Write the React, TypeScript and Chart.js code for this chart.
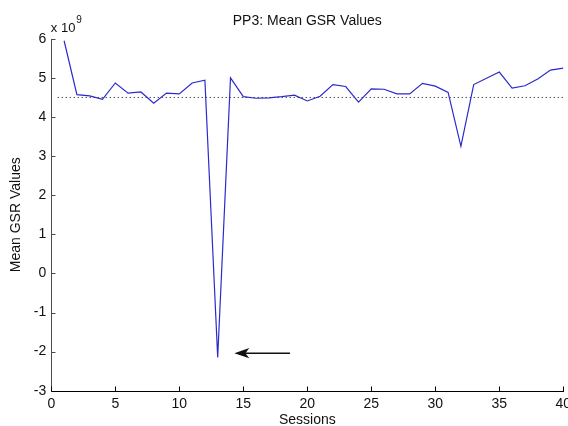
import React, { useEffect, useRef } from "react";
import { Chart, registerables } from "chart.js";

Chart.register(...registerables);

// ---- data (values in units of 10^9) ----
const sessions = [
  1, 2, 3, 4, 5, 6, 7, 8, 9, 10, 11, 12, 13, 14, 15, 16, 17, 18, 19, 20,
  21, 22, 23, 24, 25, 26, 27, 28, 29, 30, 31, 32, 33, 34, 35, 36, 37, 38, 39, 40,
];
const meanGsr = [
  5.95, 4.57, 4.54, 4.45, 4.87, 4.61, 4.64, 4.35, 4.61, 4.59,
  4.87, 4.94, -2.15, 5.0, 4.52, 4.48, 4.49, 4.52, 4.56, 4.41,
  4.53, 4.83, 4.78, 4.38, 4.72, 4.71, 4.59, 4.59, 4.86, 4.79,
  4.63, 3.25, 4.83, 4.99, 5.15, 4.74, 4.8, 4.97, 5.2, 5.25,
];
const referenceLevel = 4.5;
const referenceSpan = [0.5, 40];
const xTickRange = [0, 40];
const xTickStep = 5;
const yTickRange = [-3, 6];
const yTickStep = 1;
const exponentBase = "x 10";
const exponentPower = "9";
const titleText = "PP3: Mean GSR Values";
const xTitle = "Sessions";
const yTitle = "Mean GSR Values";
// annotation arrow in data coordinates
const arrowTail = [18.65, -2.04];
const arrowTip = [14.3, -2.04];

const FONT = "'Liberation Sans', Arial, Helvetica, sans-serif";

const matlabAxes = {
  id: "matlabAxes",
  afterDraw(chart: any) {
    const { ctx, chartArea, scales } = chart;
    const { left, right, top, bottom } = chartArea;
    const xs = scales.x;
    const ys = scales.y;
    const L = Math.round(left) + 0.5;
    const B = Math.round(bottom) + 0.5;
    ctx.save();
    ctx.lineWidth = 1;
    // left axis
    ctx.strokeStyle = "#4a4a4a";
    ctx.beginPath();
    ctx.moveTo(L, Math.round(top));
    ctx.lineTo(L, B);
    ctx.stroke();
    ys.ticks.forEach((t: any) => {
      const py = Math.round(ys.getPixelForValue(t.value)) + 0.5;
      ctx.beginPath();
      ctx.moveTo(L, py);
      ctx.lineTo(L + 4, py);
      ctx.stroke();
    });
    // bottom axis
    ctx.strokeStyle = "#000";
    ctx.beginPath();
    ctx.moveTo(L, B);
    ctx.lineTo(Math.round(right) + 1, B);
    ctx.stroke();
    xs.ticks.forEach((t: any) => {
      const px = Math.round(xs.getPixelForValue(t.value)) + 0.5;
      ctx.beginPath();
      ctx.moveTo(px, B);
      ctx.lineTo(px, B - 5);
      ctx.stroke();
    });
    // exponent label
    ctx.fillStyle = "#111";
    ctx.textAlign = "left";
    ctx.textBaseline = "alphabetic";
    ctx.font = `13px ${FONT}`;
    ctx.fillText(exponentBase, left - 0.5, 32);
    const w = ctx.measureText(exponentBase).width;
    ctx.font = `10px ${FONT}`;
    ctx.fillText(exponentPower, left + w + 0.5, 23);
    // arrow annotation
    const tx = xs.getPixelForValue(arrowTip[0]);
    const ty = ys.getPixelForValue(arrowTip[1]);
    const sx = xs.getPixelForValue(arrowTail[0]);
    const sy = ys.getPixelForValue(arrowTail[1]);
    const ang = Math.atan2(sy - ty, sx - tx);
    const ca = Math.cos(ang);
    const sa = Math.sin(ang);
    const pt = (a: number, b: number) => [tx + a * ca - b * sa, ty + a * sa + b * ca];
    ctx.strokeStyle = "#111";
    ctx.lineWidth = 1.5;
    ctx.beginPath();
    const [nx, ny] = pt(10, 0);
    ctx.moveTo(nx, ny);
    ctx.lineTo(sx, sy);
    ctx.stroke();
    ctx.fillStyle = "#111";
    ctx.beginPath();
    const p0 = pt(0, 0);
    const p1 = pt(15, 5.2);
    const p2 = pt(11, 0);
    const p3 = pt(15, -5.2);
    ctx.moveTo(p0[0], p0[1]);
    ctx.lineTo(p1[0], p1[1]);
    ctx.lineTo(p2[0], p2[1]);
    ctx.lineTo(p3[0], p3[1]);
    ctx.closePath();
    ctx.fill();
    ctx.restore();
  },
};

export default function App() {
  const ref = useRef<HTMLCanvasElement | null>(null);
  useEffect(() => {
    if (!ref.current) return;
    Chart.defaults.font.family = FONT;
    const chart = new Chart(ref.current, {
      type: "line",
      data: {
        datasets: [
          {
            data: sessions.map((s, i) => ({ x: s, y: meanGsr[i] })),
            borderColor: "#2a2acc",
            borderWidth: 1.2,
            pointRadius: 0,
            tension: 0,
            fill: false,
          },
          {
            data: referenceSpan.map((s) => ({ x: s, y: referenceLevel })),
            borderColor: "#000",
            borderWidth: 1,
            borderDash: [1, 3],
            pointRadius: 0,
            fill: false,
          },
        ],
      },
      options: {
        animation: false,
        responsive: true,
        maintainAspectRatio: false,
        layout: { padding: { left: 0, top: 0, right: 4.7, bottom: 0 } },
        plugins: {
          legend: { display: false },
          tooltip: { enabled: false },
          title: {
            display: true,
            text: titleText,
            fullSize: false,
            color: "#111",
            font: { size: 14, weight: "normal", family: FONT },
            padding: { top: 13, bottom: 9 },
          },
        },
        scales: {
          x: {
            type: "linear",
            min: xTickRange[0],
            max: xTickRange[1],
            ticks: { stepSize: xTickStep, padding: 5, color: "#111", font: { size: 14 }, maxRotation: 0, autoSkip: false },
            grid: { display: false, drawTicks: false },
            border: { display: false },
            title: { display: true, text: xTitle, color: "#111", font: { size: 14 }, padding: { top: 0, bottom: -2.4 } },
            afterFit: (s: any) => {
              s.height = 35.3;
              s.paddingLeft = 0;
              s.paddingRight = 0;
            },
          },
          y: {
            type: "linear",
            min: yTickRange[0],
            max: yTickRange[1],
            ticks: { stepSize: yTickStep, padding: 5, color: "#111", font: { size: 14 } },
            grid: { display: false, drawTicks: false },
            border: { display: false },
            title: { display: true, text: yTitle, color: "#111", font: { size: 14 }, padding: { top: 8, bottom: 0 } },
            afterFit: (s: any) => {
              s.width = 51.3;
              s.paddingTop = 0;
              s.paddingBottom = 0;
            },
          },
        },
      },
      plugins: [matlabAxes],
    });
    return () => chart.destroy();
  }, []);
  return (
    <div style={{ position: "fixed", left: 0, top: 0, width: 568, height: 426, background: "#fff" }}>
      <canvas ref={ref} />
    </div>
  );
}
